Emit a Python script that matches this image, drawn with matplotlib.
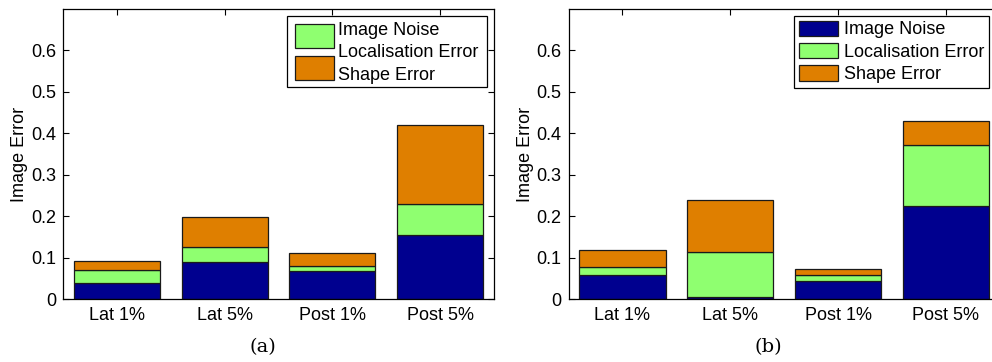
import matplotlib.pyplot as plt
from matplotlib.patches import Rectangle, Patch

categories = ['Lat 1%', 'Lat 5%', 'Post 1%', 'Post 5%']
series_names = ['Image Noise', 'Localisation Error', 'Shape Error']

# panel (a): stacked components
a_noise = [0.038, 0.089, 0.068, 0.154]
a_local = [0.031, 0.036, 0.011, 0.076]
a_shape = [0.023, 0.073, 0.031, 0.189]

# panel (b)
b_noise = [0.057, 0.006, 0.043, 0.224]
b_local = [0.021, 0.108, 0.016, 0.147]
b_shape = [0.041, 0.124, 0.013, 0.059]

colors = ['#00008f', '#8fff70', '#df7f00']

plt.rcParams['font.family'] = ['Liberation Sans', 'DejaVu Sans']
plt.rcParams['font.size'] = 13

fig = plt.figure(figsize=(9.92, 3.62), dpi=100)
ax_a = fig.add_axes([0.0635, 0.174, 0.4345, 0.801])
ax_b = fig.add_axes([0.5732, 0.174, 0.4345, 0.801])


def stacked(ax, parts):
    x = list(range(1, len(categories) + 1))
    bottom = [0.0] * len(categories)
    for vals, c in zip(parts, colors):
        ax.bar(x, vals, 0.8, bottom=bottom, color=c, edgecolor='#1a1a1a', linewidth=0.9, zorder=2)
        bottom = [bo + v for bo, v in zip(bottom, vals)]
    ax.set_xlim(0.5, 4.5)
    ax.set_ylim(0, 0.7)
    ax.set_xticks(x)
    ax.set_xticklabels(categories)
    ax.set_yticks([0, 0.1, 0.2, 0.3, 0.4, 0.5, 0.6])
    ax.set_yticklabels(['0', '0.1', '0.2', '0.3', '0.4', '0.5', '0.6'])
    ax.tick_params(direction='in', top=True, right=True, length=4, width=0.8)
    ax.tick_params(axis='x', pad=6)
    ax.tick_params(axis='y', pad=5)
    ax.set_ylabel('Image Error', labelpad=2)
    for s in ax.spines.values():
        s.set_linewidth(0.9)


stacked(ax_a, [a_noise, a_local, a_shape])
stacked(ax_b, [b_noise, b_local, b_shape])


# panel (a) legend (as in the original: only two swatches shown)
def px(ax_left, x, y):
    return ((x - ax_left) / 431.0, (299 - y) / 290.0)

bx, by = px(63, 287, 87)
ax_a.add_patch(Rectangle((bx, by), 200 / 431.0, 71 / 290.0, transform=ax_a.transAxes,
                         facecolor='white', edgecolor='black', linewidth=0.9, zorder=5))
for (y0, y1), c in zip([(24, 48), (56, 80)], colors[1:]):
    x0, yb = px(63, 295, y1)
    ax_a.add_patch(Rectangle((x0, yb), 39 / 431.0, (y1 - y0) / 290.0, transform=ax_a.transAxes,
                             facecolor=c, edgecolor='#1a1a1a', linewidth=0.9, zorder=6))
for name, yc in zip(series_names, [30, 52, 75]):
    tx, ty = px(63, 338, yc)
    ax_a.text(tx, ty, name, transform=ax_a.transAxes, va='center', ha='left', zorder=7)

# panel (b) legend
handles = [Patch(facecolor=c, edgecolor='#1a1a1a', linewidth=0.9) for c in colors]
leg = ax_b.legend(handles, series_names, loc='upper left', bbox_to_anchor=(0.523, 0.976),
                  fancybox=False, edgecolor='black', framealpha=1, borderaxespad=0,
                  borderpad=0.25, handlelength=2.2, handleheight=0.94, labelspacing=0.25,
                  handletextpad=0.3)
leg.get_frame().set_linewidth(0.9)

fig.text(263 / 992, 1 - 347 / 362, '(a)', family='DejaVu Serif', ha='center', va='center', fontsize=14)
fig.text(768 / 992, 1 - 347 / 362, '(b)', family='DejaVu Serif', ha='center', va='center', fontsize=14)

plt.savefig('out.png', dpi=100)
